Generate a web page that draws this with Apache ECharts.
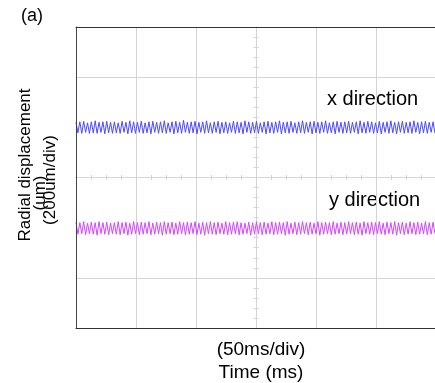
<!DOCTYPE html>
<html>
<head>
<meta charset="utf-8">
<script src="https://cdn.jsdelivr.net/npm/echarts@6/dist/echarts.min.js"></script>
<style>
html,body{margin:0;padding:0;background:#fff;}
#c{width:435px;height:383px;}
</style>
</head>
<body>
<div id="c"></div>
<script>
// Oscilloscope trace, sampled every half period (ms)
const sampleStepMs = 1.6;
const timeRangeMs = [0, 299.2];
const displacementRangeUm = [-300, 300];

// x direction trace (um)
const xDirection = [
110,89,111,88,112,90,109,88,111,89,113,88,110,90,111,87,112,89,110,88,
111,89,109,88,112,90,110,87,113,89,111,88,110,90,112,88,109,89,111,87,
112,90,110,88,111,89,113,88,109,90,111,87,112,89,110,88,114,90,110,88,
111,89,112,87,110,90,111,88,113,89,109,88,111,90,112,87,110,89,111,88,
109,90,112,88,111,89,110,87,113,90,111,88,110,89,112,88,109,90,111,87,
112,89,110,88,111,90,113,87,110,89,111,88,112,90,109,88,111,89,113,88,
110,90,111,87,112,89,110,88,111,90,113,88,109,89,111,87,112,90,110,88,
111,89,112,88,110,90,111,87,113,89,110,88,112,90,111,88,109,89,112,87,
110,90,111,88,113,89,110,87,111,90,112,88,110,89,111,88,
113,90,110,87,111,89,112,88,110,90,111,88
];

// y direction trace (um)
const yDirection = [
-89,-113,-90,-112,-88,-114,-91,-112,-89,-113,-90,-115,-88,-112,-90,-113,-89,-114,-91,-112,
-90,-113,-88,-114,-90,-112,-89,-115,-91,-113,-88,-112,-90,-114,-89,-113,-90,-112,-88,-114,
-91,-113,-89,-112,-90,-115,-88,-113,-90,-112,-89,-114,-91,-113,-88,-112,-90,-114,-89,-113,
-90,-112,-88,-114,-91,-113,-89,-115,-90,-112,-88,-113,-90,-114,-89,-112,-91,-113,-88,-114,
-90,-113,-89,-112,-88,-114,-90,-113,-91,-112,-89,-115,-90,-113,-88,-112,-90,-114,-89,-113,
-91,-112,-88,-114,-90,-113,-89,-112,-90,-115,-88,-113,-91,-112,-89,-114,-90,-113,-88,-112,
-90,-114,-89,-113,-91,-112,-88,-115,-90,-113,-89,-112,-90,-114,-88,-113,-91,-112,-89,-114,
-90,-113,-88,-112,-90,-114,-89,-113,-91,-115,-88,-112,-90,-113,-89,-114,-90,-112,-88,-113,
-91,-114,-89,-112,-90,-113,-88,-115,-90,-112,-89,-114,-91,-113,-88,-112,
-90,-114,-89,-113,-91,-112,-88,-114,-90,-113,-89,-112
];

const labels = {
  panel: '(a)',
  yTitle: 'Radial displacement',
  yUnit: '(um)',
  yScale: '(200um/div)',
  xScale: '(50ms/div)',
  xTitle: 'Time (ms)',
  xTrace: 'x direction',
  yTrace: 'y direction'
};

const toPairs = arr => arr.map((v, i) => [i * sampleStepMs, v]);

const chart = echarts.init(document.getElementById('c'), null, {renderer: 'canvas'});
const FONT = 'Liberation Sans, Arial, sans-serif';
const GRID_COLOR = '#d4d4d4';
const FRAME_COLOR = '#333';

const centerYAxis = (inside) => ({
  type: 'value', min: displacementRangeUm[0], max: displacementRangeUm[1], interval: 100,
  position: 'left', offset: -180, z: 1,
  axisLine: {show: true, onZero: false, lineStyle: {color: GRID_COLOR, width: 1}},
  axisTick: {show: true, inside: inside, length: 2.5, lineStyle: {color: GRID_COLOR}},
  minorTick: {show: true, splitNumber: 5, length: 2.5, lineStyle: {color: GRID_COLOR}},
  axisLabel: {show: false}, splitLine: {show: false}
});
const centerXAxis = (inside, withSplit) => ({
  type: 'value', min: timeRangeMs[0], max: timeRangeMs[1], interval: 50,
  position: 'bottom', z: 1,
  axisLine: {show: true, onZero: true, onZeroAxisIndex: 0, lineStyle: {color: GRID_COLOR, width: 1}},
  axisTick: {show: true, inside: inside, length: 2.5, lineStyle: {color: GRID_COLOR}},
  minorTick: {show: true, splitNumber: 4, length: 2.5, lineStyle: {color: GRID_COLOR}},
  axisLabel: {show: false},
  splitLine: {show: withSplit, lineStyle: {color: GRID_COLOR, width: 1}}
});
const frameXAxis = (pos) => ({
  type: 'value', min: timeRangeMs[0], max: timeRangeMs[1], interval: 50,
  position: pos, z: 5,
  axisLine: {show: true, onZero: false, lineStyle: {color: FRAME_COLOR, width: 1}},
  axisTick: {show: false}, axisLabel: {show: false}, splitLine: {show: false}
});

chart.setOption({
  animation: false,
  backgroundColor: '#fff',
  grid: {left: 76, top: 27, width: 359, height: 301, show: false, containLabel: false},
  xAxis: [centerXAxis(true, true), centerXAxis(false, false), frameXAxis('top'), frameXAxis('bottom')],
  yAxis: [
    {
      type: 'value', min: displacementRangeUm[0], max: displacementRangeUm[1], interval: 100,
      position: 'left', z: 5,
      axisLine: {show: true, onZero: false, lineStyle: {color: '#444', width: 1}},
      axisTick: {show: false}, axisLabel: {show: false},
      splitLine: {show: true, lineStyle: {color: ['transparent', GRID_COLOR], width: 1}}
    },
    centerYAxis(true),
    centerYAxis(false)
  ],
  series: [
    {
      name: labels.xTrace, type: 'line', xAxisIndex: 0, yAxisIndex: 0, z: 3,
      data: toPairs(xDirection), showSymbol: false, symbol: 'none',
      lineStyle: {color: '#4b4bff', width: 1}, itemStyle: {color: '#4b4bff'}
    },
    {
      name: labels.yTrace, type: 'line', xAxisIndex: 0, yAxisIndex: 0, z: 3,
      data: toPairs(yDirection), showSymbol: false, symbol: 'none',
      lineStyle: {color: '#d147ff', width: 1}, itemStyle: {color: '#d147ff'}
    }
  ],
  graphic: [
    {type: 'text', x: 32, y: 16, style: {text: labels.panel, font: '18px ' + FONT, fill: '#000', align: 'center', verticalAlign: 'middle'}},
    {type: 'text', x: 25, y: 165, rotation: Math.PI / 2, style: {text: labels.yTitle, font: '17px ' + FONT, fill: '#000', align: 'center', verticalAlign: 'middle'}},
    {type: 'text', x: 40, y: 193, rotation: Math.PI / 2, style: {text: labels.yUnit, font: '17px ' + FONT, fill: '#000', align: 'center', verticalAlign: 'middle'}},
    {type: 'text', x: 50, y: 180, rotation: Math.PI / 2, style: {text: labels.yScale, font: '17px ' + FONT, fill: '#000', align: 'center', verticalAlign: 'middle'}},
    {type: 'text', x: 261, y: 350, style: {text: labels.xScale, font: '19px ' + FONT, fill: '#000', align: 'center', verticalAlign: 'middle'}},
    {type: 'text', x: 261, y: 373, style: {text: labels.xTitle, font: '19px ' + FONT, fill: '#000', align: 'center', verticalAlign: 'middle'}},
    {type: 'text', x: 327, y: 99, style: {text: labels.xTrace, font: '20px ' + FONT, fill: '#000', align: 'left', verticalAlign: 'middle'}},
    {type: 'text', x: 329, y: 200, style: {text: labels.yTrace, font: '20px ' + FONT, fill: '#000', align: 'left', verticalAlign: 'middle'}}
  ]
});
</script>
</body>
</html>
